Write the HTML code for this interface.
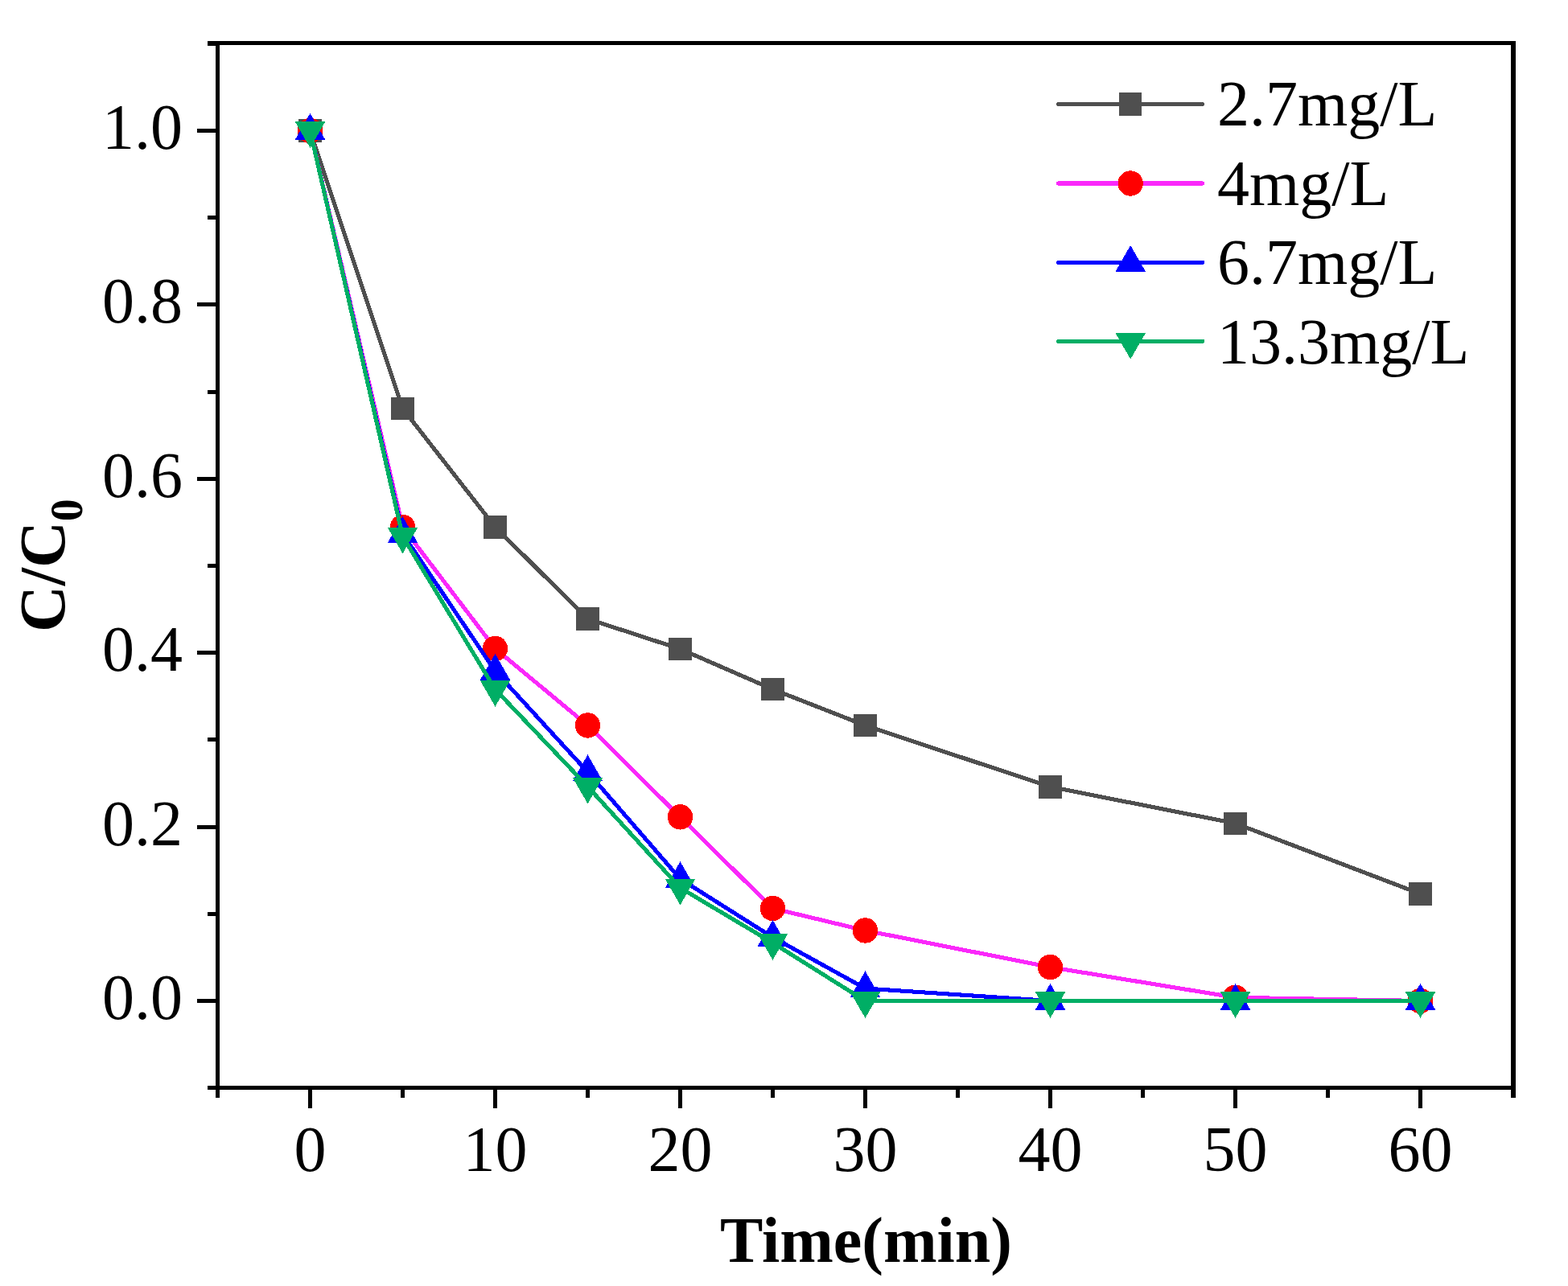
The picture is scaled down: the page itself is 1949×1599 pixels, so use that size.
<!DOCTYPE html>
<html><head><meta charset="utf-8"><title>C/C0 vs Time</title>
<style>
html,body{margin:0;padding:0;background:#fff;}
svg{display:block;}
text{font-family:"Liberation Serif","Times New Roman",serif;font-size:80px;fill:#000;}
.b{font-weight:bold;}
</style></head><body>
<svg width="1949" height="1599" viewBox="0 0 1949 1599">
<rect width="1949" height="1599" fill="#fff"/>
<g shape-rendering="crispEdges">
<rect x="268" y="51" width="5" height="1314" fill="#000"/>
<rect x="1878" y="51" width="6" height="1314" fill="#000"/>
<rect x="258" y="51" width="1626" height="5" fill="#000"/>
<rect x="258" y="1350" width="1626" height="5" fill="#000"/>
<rect x="245" y="1242" width="23" height="5" fill="#000"/>
<rect x="245" y="1025.6" width="23" height="5" fill="#000"/>
<rect x="245" y="809.2" width="23" height="5" fill="#000"/>
<rect x="245" y="592.8" width="23" height="5" fill="#000"/>
<rect x="245" y="376.4" width="23" height="5" fill="#000"/>
<rect x="245" y="160" width="23" height="5" fill="#000"/>
<rect x="258" y="1350.2" width="10" height="5" fill="#000"/>
<rect x="258" y="1133.8" width="10" height="5" fill="#000"/>
<rect x="258" y="917.4" width="10" height="5" fill="#000"/>
<rect x="258" y="701" width="10" height="5" fill="#000"/>
<rect x="258" y="484.6" width="10" height="5" fill="#000"/>
<rect x="258" y="268.2" width="10" height="5" fill="#000"/>
<rect x="258" y="51.8" width="10" height="5" fill="#000"/>
<rect x="383" y="1355" width="5" height="23" fill="#000"/>
<rect x="613" y="1355" width="5" height="23" fill="#000"/>
<rect x="843" y="1355" width="5" height="23" fill="#000"/>
<rect x="1073" y="1355" width="5" height="23" fill="#000"/>
<rect x="1303" y="1355" width="5" height="23" fill="#000"/>
<rect x="1533" y="1355" width="5" height="23" fill="#000"/>
<rect x="1763" y="1355" width="5" height="23" fill="#000"/>
<rect x="268" y="1355" width="5" height="10" fill="#000"/>
<rect x="498" y="1355" width="5" height="10" fill="#000"/>
<rect x="728" y="1355" width="5" height="10" fill="#000"/>
<rect x="958" y="1355" width="5" height="10" fill="#000"/>
<rect x="1188" y="1355" width="5" height="10" fill="#000"/>
<rect x="1418" y="1355" width="5" height="10" fill="#000"/>
<rect x="1648" y="1355" width="5" height="10" fill="#000"/>
<rect x="1878" y="1355" width="5" height="10" fill="#000"/>
</g>
<g shape-rendering="crispEdges">
<polyline points="385.5,162.5 500.5,507.98 615.5,655.35 730.5,769.5 845.5,806.94 960.5,857.04 1075.5,902.05 1305.5,978.33 1535.5,1023.77 1765.5,1111.41" fill="none" stroke="#4f4f4f" stroke-width="5.1" stroke-linejoin="round" stroke-linecap="round"/>
<rect x="371.25" y="148.25" width="28.5" height="28.5" fill="#4f4f4f"/>
<rect x="486.25" y="493.73" width="28.5" height="28.5" fill="#4f4f4f"/>
<rect x="601.25" y="641.1" width="28.5" height="28.5" fill="#4f4f4f"/>
<rect x="716.25" y="755.25" width="28.5" height="28.5" fill="#4f4f4f"/>
<rect x="831.25" y="792.69" width="28.5" height="28.5" fill="#4f4f4f"/>
<rect x="946.25" y="842.79" width="28.5" height="28.5" fill="#4f4f4f"/>
<rect x="1061.25" y="887.8" width="28.5" height="28.5" fill="#4f4f4f"/>
<rect x="1291.25" y="964.08" width="28.5" height="28.5" fill="#4f4f4f"/>
<rect x="1521.25" y="1009.52" width="28.5" height="28.5" fill="#4f4f4f"/>
<rect x="1751.25" y="1097.16" width="28.5" height="28.5" fill="#4f4f4f"/>
<polyline points="385.5,162.5 500.5,655.46 615.5,806.51 730.5,901.94 845.5,1015.87 960.5,1129.48 1075.5,1156.97 1305.5,1202.52 1535.5,1240.28 1765.5,1244.5" fill="none" stroke="#fa28fa" stroke-width="5.1" stroke-linejoin="round" stroke-linecap="round"/>
<circle cx="385.5" cy="162.5" r="15.7" fill="#ff0000"/>
<circle cx="500.5" cy="655.46" r="15.7" fill="#ff0000"/>
<circle cx="615.5" cy="806.51" r="15.7" fill="#ff0000"/>
<circle cx="730.5" cy="901.94" r="15.7" fill="#ff0000"/>
<circle cx="845.5" cy="1015.87" r="15.7" fill="#ff0000"/>
<circle cx="960.5" cy="1129.48" r="15.7" fill="#ff0000"/>
<circle cx="1075.5" cy="1156.97" r="15.7" fill="#ff0000"/>
<circle cx="1305.5" cy="1202.52" r="15.7" fill="#ff0000"/>
<circle cx="1535.5" cy="1240.28" r="15.7" fill="#ff0000"/>
<circle cx="1765.5" cy="1244.5" r="15.7" fill="#ff0000"/>
<polyline points="385.5,162.5 500.5,663.79 615.5,834.42 730.5,959.93 845.5,1092.8 960.5,1165.41 1075.5,1229.03 1305.5,1244.5 1535.5,1244.5 1765.5,1244.5" fill="none" stroke="#0000ff" stroke-width="5.1" stroke-linejoin="round" stroke-linecap="round"/>
<polygon points="385.5,140.9 404.4,173.9 366.6,173.9" fill="#0000ff"/>
<polygon points="500.5,642.19 519.4,675.19 481.6,675.19" fill="#0000ff"/>
<polygon points="615.5,812.82 634.4,845.82 596.6,845.82" fill="#0000ff"/>
<polygon points="730.5,938.33 749.4,971.33 711.6,971.33" fill="#0000ff"/>
<polygon points="845.5,1071.2 864.4,1104.2 826.6,1104.2" fill="#0000ff"/>
<polygon points="960.5,1143.81 979.4,1176.81 941.6,1176.81" fill="#0000ff"/>
<polygon points="1075.5,1207.43 1094.4,1240.43 1056.6,1240.43" fill="#0000ff"/>
<polygon points="1305.5,1222.9 1324.4,1255.9 1286.6,1255.9" fill="#0000ff"/>
<polygon points="1535.5,1222.9 1554.4,1255.9 1516.6,1255.9" fill="#0000ff"/>
<polygon points="1765.5,1222.9 1784.4,1255.9 1746.6,1255.9" fill="#0000ff"/>
<polyline points="385.5,162.5 500.5,666.93 615.5,857.14 730.5,978 845.5,1103.95 960.5,1172.33 1075.5,1244.5 1305.5,1244.5 1535.5,1244.5 1765.5,1244.5" fill="none" stroke="#00ae65" stroke-width="5.1" stroke-linejoin="round" stroke-linecap="round"/>
<polygon points="366.6,151.1 404.4,151.1 385.5,183.9" fill="#00ae65"/>
<polygon points="481.6,655.53 519.4,655.53 500.5,688.33" fill="#00ae65"/>
<polygon points="596.6,845.74 634.4,845.74 615.5,878.54" fill="#00ae65"/>
<polygon points="711.6,966.6 749.4,966.6 730.5,999.4" fill="#00ae65"/>
<polygon points="826.6,1092.55 864.4,1092.55 845.5,1125.35" fill="#00ae65"/>
<polygon points="941.6,1160.93 979.4,1160.93 960.5,1193.73" fill="#00ae65"/>
<polygon points="1056.6,1233.1 1094.4,1233.1 1075.5,1265.9" fill="#00ae65"/>
<polygon points="1286.6,1233.1 1324.4,1233.1 1305.5,1265.9" fill="#00ae65"/>
<polygon points="1516.6,1233.1 1554.4,1233.1 1535.5,1265.9" fill="#00ae65"/>
<polygon points="1746.6,1233.1 1784.4,1233.1 1765.5,1265.9" fill="#00ae65"/>
</g>
<g shape-rendering="crispEdges">
<line x1="1315.5" y1="129.5" x2="1494.6" y2="129.5" stroke="#4f4f4f" stroke-width="5.1" stroke-linecap="round"/>
<rect x="1390.95" y="115.25" width="28.5" height="28.5" fill="#4f4f4f"/>
<text x="1513" y="156">2.7mg/L</text>
<line x1="1315.5" y1="228" x2="1494.6" y2="228" stroke="#fa28fa" stroke-width="5.1" stroke-linecap="round"/>
<circle cx="1405.2" cy="228" r="15.7" fill="#ff0000"/>
<text x="1513" y="254.7">4mg/L</text>
<line x1="1315.5" y1="326.4" x2="1494.6" y2="326.4" stroke="#0000ff" stroke-width="5.1" stroke-linecap="round"/>
<polygon points="1405.2,305 1424.1,338 1386.3,338" fill="#0000ff"/>
<text x="1513" y="353.3">6.7mg/L</text>
<line x1="1315.5" y1="424.4" x2="1494.6" y2="424.4" stroke="#00ae65" stroke-width="5.1" stroke-linecap="round"/>
<polygon points="1386.3,413.8 1424.1,413.8 1405.2,446.6" fill="#00ae65"/>
<text x="1513" y="451.7">13.3mg/L</text>
</g>
<g>
<text x="227" y="1267" text-anchor="end">0.0</text>
<text x="227" y="1050.6" text-anchor="end">0.2</text>
<text x="227" y="834.2" text-anchor="end">0.4</text>
<text x="227" y="617.8" text-anchor="end">0.6</text>
<text x="227" y="401.4" text-anchor="end">0.8</text>
<text x="227" y="185" text-anchor="end">1.0</text>
<text x="385.5" y="1456" text-anchor="middle">0</text>
<text x="615.5" y="1456" text-anchor="middle">10</text>
<text x="845.5" y="1456" text-anchor="middle">20</text>
<text x="1075.5" y="1456" text-anchor="middle">30</text>
<text x="1305.5" y="1456" text-anchor="middle">40</text>
<text x="1535.5" y="1456" text-anchor="middle">50</text>
<text x="1765.5" y="1456" text-anchor="middle">60</text>
</g>
<text class="b" x="895" y="1569">Time(min)</text>
<text class="b" transform="translate(80,786) rotate(-90)">C/C<tspan font-size="56" dy="22">0</tspan></text>
</svg>
</body></html>
